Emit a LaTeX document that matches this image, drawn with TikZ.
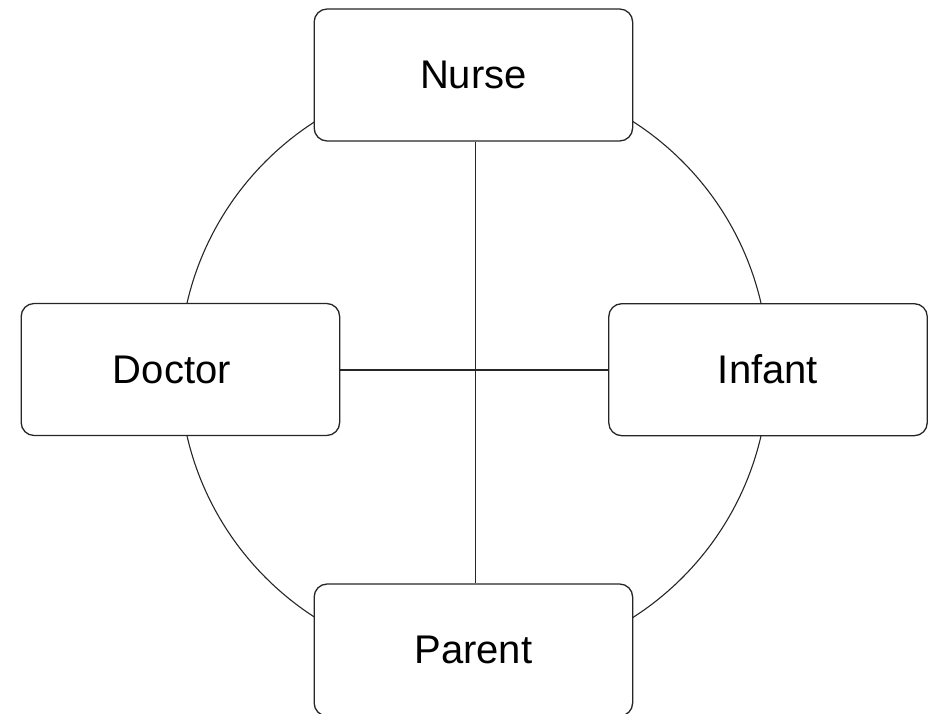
\documentclass[tikz,border=0pt]{standalone}
\usepackage{fontspec}
\setmainfont{Liberation Sans}
\begin{document}
\begin{tikzpicture}[x=1pt,y=-1pt,
  role/.style={draw=black!85, fill=white, rounded corners=13pt, line width=1.3pt,
    minimum width=318.5pt, minimum height=132pt, inner sep=0pt,
    font=\fontsize{40}{44}\selectfont},
  link/.style={draw=black!85, line width=1.1pt}]
\useasboundingbox (0,0) rectangle (932,714);
\clip (0,0) rectangle (932,714);
% ring behind the four roles
\coordinate (hub) at (474,369.5);
\coordinate (cross) at (475.5,370);
\draw[link] (hub) circle[radius=294.5pt];
% roles
\node[role] (nurse)  at (473.4,75)    {\raisebox{-2pt}{Nurse}};
\node[role] (doctor) at (180.4,369.5) {\hspace*{-17pt}Doctor};
\node[role] (infant) at (768,369.7)   {Infant};
\node[role] (parent) at (473.4,650)   {\raisebox{-2pt}{Parent}};
% spokes
\draw[link] (nurse.south -| cross) -- (parent.north -| cross);
\draw[link] (doctor.east |- cross) -- (infant.west |- cross);
\end{tikzpicture}
\end{document}
